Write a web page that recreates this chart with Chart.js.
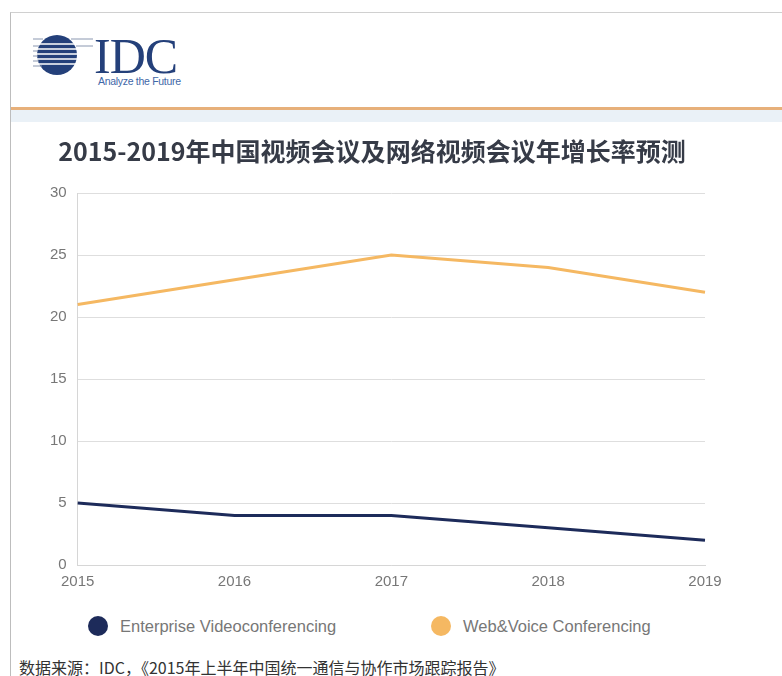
<!DOCTYPE html>
<html>
<head>
<meta charset="utf-8">
<script src="https://cdn.jsdelivr.net/npm/chart.js@4"></script>
<style>
  body { margin: 0; width: 782px; height: 676px; background: #fff; overflow: hidden; font-family: "Liberation Sans", "Noto Sans CJK SC", sans-serif; }
  #frame { position: absolute; left: 10px; top: 12px; width: 772px; height: 664px; border-left: 1px solid #bdbdbd; border-top: 1px solid #d0d0d0; }
  #header { position: absolute; left: 0; top: 0; width: 772px; height: 93px; background: #fff; }
  #rule { position: absolute; left: 0; top: 94px; width: 772px; height: 3px; background: #e7b07a; }
  #band { position: absolute; left: 0; top: 97px; width: 772px; height: 12px; background: #eaf1f7; }
  #logo { position: absolute; left: 22px; top: 20px; }
  #chartbox { position: absolute; left: 0; top: 110px; width: 772px; height: 480px; }
  #legend { position: absolute; left: 0; top: 601px; width: 772px; height: 24px; font-size: 16.5px; color: #777; }
  #legend .item { position: absolute; top: 0; height: 24px; line-height: 24px; white-space: nowrap; }
  #legend .dot { position: absolute; left: 0; top: 2px; width: 20px; height: 20px; border-radius: 50%; }
  #legend .txt { position: absolute; left: 32px; top: 0; }
  #source { position: absolute; left: 8px; top: 642px; font-size: 16px; color: #333; font-family: "Noto Sans CJK SC", sans-serif; }
</style>
</head>
<body>
<div id="frame">
  <div id="header">
    <svg id="logo" width="190" height="60" viewBox="0 0 190 60">
      <circle cx="24" cy="22" r="20" fill="#24407a"/>
      <g stroke="#fff" stroke-width="1.6">
        <line x1="3" y1="11" x2="45" y2="11"/>
        <line x1="3" y1="16" x2="45" y2="16"/>
        <line x1="3" y1="21" x2="45" y2="21"/>
        <line x1="3" y1="26" x2="45" y2="26"/>
        <line x1="3" y1="31" x2="45" y2="31"/>
      </g>
      <g stroke="#8a97b0" stroke-width="1">
        <line x1="0" y1="6" x2="10" y2="6"/>
        <line x1="0" y1="13" x2="6" y2="13"/>
        <line x1="0" y1="18" x2="5" y2="18"/>
        <line x1="0" y1="23" x2="5" y2="23"/>
        <line x1="0" y1="28" x2="6" y2="28"/>
        <line x1="0" y1="33" x2="9" y2="33"/>
        <line x1="38" y1="6" x2="60" y2="6"/>
        <line x1="43" y1="13" x2="60" y2="13"/>
      </g>
      <text x="61" y="40" font-family="Liberation Serif, serif" font-size="50" fill="#24407a" letter-spacing="-1">IDC</text>
      <text x="65" y="52" font-family="Liberation Sans, sans-serif" font-size="10.5" fill="#3f68a8" letter-spacing="-0.3">Analyze the Future</text>
    </svg>
  </div>
  <div id="rule"></div>
  <div id="band"></div>
  <div id="chartbox"><canvas id="growth-chart" width="772" height="480"></canvas></div>
  <div id="legend"></div>
  <div id="source">数据来源：IDC，《2015年上半年中国统一通信与协作市场跟踪报告》</div>
</div>
<script>
// 2015-2019 growth rate forecast (%)
const years = ["2015", "2016", "2017", "2018", "2019"];
const enterprise_Video = [5, 4, 4, 3, 2];
const web_Voice = [21, 23, 25, 24, 22];
const y_Ticks = [0, 5, 10, 15, 20, 25, 30];
const series_Names = ["Enterprise Videoconferencing", "Web&Voice Conferencing"];
const series_Colors = ["#1d2b5a", "#f5b862"];

let growth_chart = document.getElementById("growth-chart").getContext("2d");

const chart = new Chart(growth_chart, {
	type: "line",
	data: {
		labels: years,
		datasets: [
			{
				label: series_Names[0],
				data: enterprise_Video,
				borderColor: series_Colors[0],
				backgroundColor: series_Colors[0],
				borderWidth: 3,
				pointRadius: 0,
				tension: 0,
			},
			{
				label: series_Names[1],
				data: web_Voice,
				borderColor: series_Colors[1],
				backgroundColor: series_Colors[1],
				borderWidth: 3,
				pointRadius: 0,
				tension: 0,
			},
		],
	},
	options: {
		responsive: false,
		animation: false,
		devicePixelRatio: 1,
		layout: { padding: { left: 28, right: 78, top: 0, bottom: 12 } },
		plugins: {
			title: {
				display: true,
				text: "2015-2019年中国视频会议及网络视频会议年增长率预测",
				color: "#363b47",
				font: { size: 25, weight: "bold", family: "'Noto Sans CJK SC', sans-serif" },
				padding: { top: 13, bottom: 27 },
			},
			legend: { display: false },
			tooltip: { enabled: false },
		},
		scales: {
			x: {
				offset: false,
				grid: { display: false },
				border: { color: "#d6d6d6" },
				ticks: { color: "#777", font: { size: 15, family: "'Liberation Sans', sans-serif" }, padding: 0, maxRotation: 0 },
			},
			y: {
				min: 0,
				max: 30,
				afterBuildTicks: (axis) => { axis.ticks = y_Ticks.map((v) => ({ value: v })); },
				grid: { color: "#dedede", drawTicks: false },
				border: { color: "#d6d6d6" },
				ticks: { color: "#777", font: { size: 15, family: "'Liberation Sans', sans-serif" }, padding: 11 },
			},
		},
	},
});

// html legend, built from the chart's datasets
const legend_Left = [77, 420];
const legend_Box = document.getElementById("legend");
chart.data.datasets.forEach((ds, i) => {
	const item = document.createElement("div");
	item.className = "item";
	item.style.left = legend_Left[i] + "px";
	item.innerHTML = '<span class="dot" style="background:' + ds.borderColor + '"></span><span class="txt">' + ds.label.replace("&", "&amp;") + "</span>";
	legend_Box.appendChild(item);
});
</script>
</body>
</html>
